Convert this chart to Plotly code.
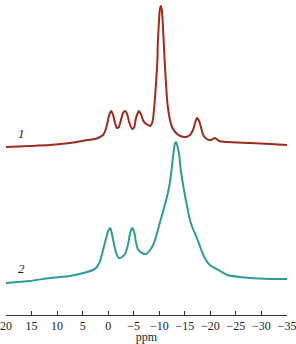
import plotly.graph_objects as go

# Spectrum 1 (ppm, intensity in arbitrary units)
ppm_1 = [20.0, 15.3, 11.4, 7.5, 4.1, 2.6, 1.6, 1.0, 0.6, 0.2, -0.2, -0.6, -0.9, -1.3, -1.7,
         -2.1, -2.5, -2.9, -3.3, -3.7, -4.1, -4.7, -5.1, -5.4, -5.8, -6.0, -6.4, -6.8, -7.2,
         -7.8, -8.2, -8.6, -8.8, -9.0, -9.2, -9.4, -9.6, -9.7, -9.9, -10.1, -10.3, -10.5,
         -10.7, -10.9, -11.1, -11.3, -11.5, -11.7, -12.1, -12.5, -13.1, -14.1, -15.2, -16.0,
         -16.6, -17.0, -17.4, -17.8, -18.2, -18.6, -19.3, -20.1, -20.9, -21.7, -23.3, -27.8,
         -31.7, -35.0]
int_1 = [168, 169, 170, 172, 175, 176, 178, 180, 184, 191, 200, 204, 201, 193, 187,
         188, 195, 202, 204, 201, 193, 186, 188, 196, 202, 204, 201, 195, 192,
         190, 189, 192, 197, 207, 220, 235, 250, 270, 290, 305, 309, 305,
         290, 270, 250, 233, 217, 207, 195, 188, 183, 179, 178, 180,
         185, 192, 197, 194, 187, 180, 176, 175, 177, 174, 173, 172,
         171, 170]

# Spectrum 2
ppm_2 = [20.0, 15.3, 11.4, 7.5, 4.1, 3.0, 2.2, 1.6, 1.0, 0.4, 0.0, -0.4, -0.7, -1.1, -1.5,
         -2.1, -2.7, -3.3, -3.9, -4.3, -4.7, -5.1, -5.4, -5.8, -6.6, -7.4, -8.2, -8.8, -9.4,
         -10.1, -10.7, -11.5, -12.1, -12.5, -12.9, -13.1, -13.3, -13.5, -13.9, -14.2, -14.6,
         -15.2, -16.0, -16.6, -17.2, -18.0, -18.9, -19.9, -21.9, -23.3, -27.8, -31.7, -35.0]
int_2 = [32, 34, 37, 39, 43, 45, 48, 54, 65, 77, 84, 87, 82, 72, 63,
         57, 58, 61, 71, 82, 87, 83, 74, 66, 62, 61, 65, 70, 79,
         92, 103, 118, 133, 150, 167, 172, 173, 170, 160, 145, 132,
         115, 95, 86, 79, 68, 57, 50, 44, 40, 37, 36, 36]

tick_vals = [20, 15, 10, 5, 0, -5, -10, -15, -20, -25, -30, -35]
tick_text = ["20", "15", "10", "5", "0", "\u22125", "\u221210", "\u221215", "\u221220",
             "\u221225", "\u221230", "\u221235"]

labels = ["1", "2"]
label_ppm = [16.9, 16.9]
label_int = [182, 47]

red = "#9b2c1e"
teal = "#2e9b97"

fig = go.Figure()
fig.add_trace(go.Scatter(x=ppm_1, y=int_1, mode="lines",
                         line=dict(color=red, width=2, shape="spline", smoothing=0.6),
                         hoverinfo="skip"))
fig.add_trace(go.Scatter(x=ppm_2, y=int_2, mode="lines",
                         line=dict(color=teal, width=2, shape="spline", smoothing=0.6),
                         hoverinfo="skip"))

for t, xv, yv in zip(labels, label_ppm, label_int):
    fig.add_annotation(x=xv, y=yv, text="<i>" + t + "</i>", showarrow=False,
                       font=dict(family="Liberation Serif", size=13, color="#222"))

fig.update_layout(
    width=296, height=344,
    margin=dict(l=6, r=9, t=0, b=29),
    paper_bgcolor="white", plot_bgcolor="white",
    showlegend=False,
    font=dict(family="Liberation Serif", size=12, color="#222"),
    xaxis=dict(range=[20, -35], tickvals=tick_vals, ticktext=tick_text,
               ticks="inside", ticklen=4, tickcolor="#333", tickwidth=1,
               showline=True, linecolor="#333", linewidth=1,
               showgrid=False, zeroline=False,
               ticklabeloverflow="allow",
               title=dict(text="ppm", standoff=0, font=dict(family="Liberation Serif", size=12)),
               tickfont=dict(family="Liberation Serif", size=12)),
    yaxis=dict(range=[0, 315], visible=False, showgrid=False, zeroline=False),
)

fig.write_html("out.html")
